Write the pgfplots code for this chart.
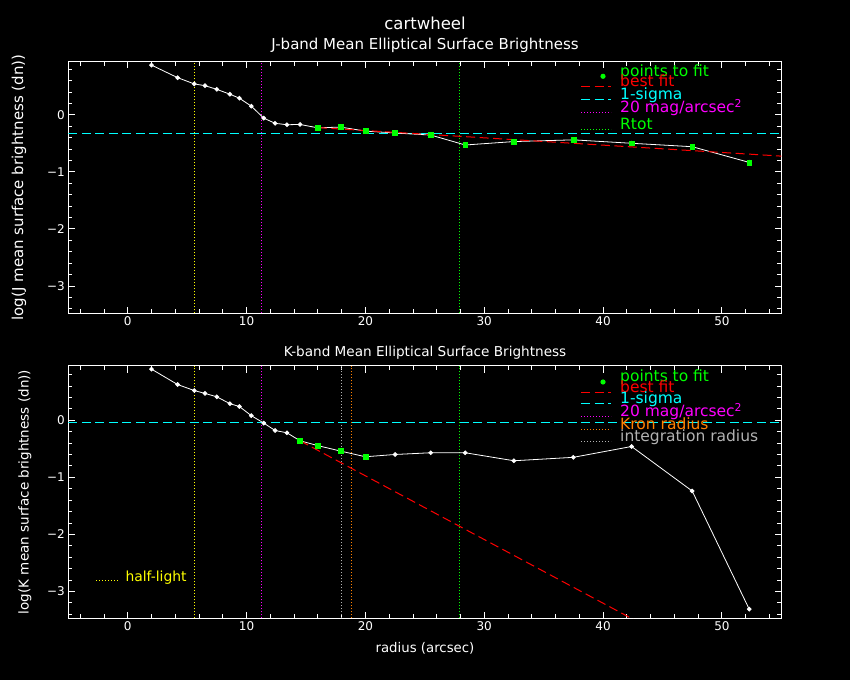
\documentclass[border=0pt]{standalone}
\usepackage{pgfplots}
\usepackage{pgfplotstable}
\pgfplotsset{compat=1.18}
\usepackage{fontspec}
\setmainfont{DejaVu Sans}
\definecolor{pgreen}{RGB}{0,255,0}
\definecolor{pcyan}{RGB}{0,255,255}
\definecolor{pmag}{RGB}{255,0,255}
\definecolor{pred}{RGB}{255,0,0}
\definecolor{pyel}{RGB}{255,255,0}
\definecolor{porange}{RGB}{255,128,0}
\definecolor{pgray}{RGB}{178,178,178}

\pgfplotstableread{
r      J       K
2.0    0.87    0.895
4.2    0.65    0.625
5.6    0.54    0.52
6.5    0.51    0.47
7.5    0.445   0.41
8.6    0.36    0.29
9.4    0.29    0.24
10.4   0.15    0.08
11.45  -0.06   -0.05
12.4   -0.15   -0.18
13.4   -0.175  -0.22
14.5   -0.17   -0.36
16.0   -0.23   -0.445
17.9   -0.216  -0.54
20.0   -0.286  -0.64
22.5   -0.32   -0.60
25.5   -0.356  -0.57
28.4   -0.53   -0.57
32.5   -0.47   -0.71
37.5   -0.44   -0.65
42.4   -0.50   -0.46
47.5   -0.56   -1.24
52.3   -0.835  -3.31
}\prof

\pgfplotstableread{
r      J
16.0   -0.23
17.9   -0.216
20.0   -0.286
22.5   -0.32
25.5   -0.356
28.4   -0.53
32.5   -0.47
37.5   -0.44
42.4   -0.50
47.5   -0.56
52.3   -0.835
}\fitJ

\pgfplotstableread{
r      K
14.5   -0.36
16.0   -0.445
17.9   -0.54
20.0   -0.64
}\fitK

\tikzset{
  dotl/.style={line width=1pt, dash pattern=on 1pt off 2pt},
  dashl/.style={line width=1pt, dash pattern=on 9pt off 4.5pt},
}
\pgfplotsset{
  pg/.style={
    scale only axis, width=713pt,
    xmin=-5, xmax=55,
    axis line style={white, line width=1pt},
    every tick/.style={white, line width=0.8pt},
    tick align=inside,
    major tick length=6.7pt, minor tick length=4pt,
    xtick={0,10,20,30,40,50},
    minor xtick={-4,-2,...,54},
    ytick={-3,-2,-1,0},
    yticklabels={−3,−2,−1,0},
    minor ytick={-3.4,-3.2,...,0.9},
    tick label style={white, font=\fontsize{12}{14}\selectfont},
    /pgf/number format/assume math mode=true,
    axis background/.style={fill=black},
  },
  datal/.style={white, line width=0.8pt, mark=*, mark size=1.9pt, mark options={fill=white, draw=white, solid}},
  fitm/.style={only marks, mark=square*, mark size=2.4pt, mark options={fill=pgreen, draw=pgreen}},
}

\begin{document}
\begin{tikzpicture}[x=1pt,y=1pt]
\fill[black] (0,0) rectangle (850,680);

% ---------- J band ----------
\begin{axis}[pg, at={(68.3pt,366.7pt)}, anchor=south west, height=251.6pt,
  ymin=-3.48, ymax=0.93]
\addplot[pyel, dotl] coordinates {(5.6,-3.48) (5.6,0.93)};
\addplot[pmag, dotl] coordinates {(11.25,-3.48) (11.25,0.93)};
\addplot[pgreen, dotl] coordinates {(27.95,-3.48) (27.95,0.93)};
\addplot[pcyan, dashl] coordinates {(-5,-0.333) (55,-0.333)};
\addplot[datal] table[x=r, y=J] {\prof};
\addplot[pred, dashl] coordinates {(16.0,-0.225) (55,-0.725)};
\addplot[fitm] table[x=r, y=J] {\fitJ};
\end{axis}

% ---------- K band ----------
\begin{axis}[pg, at={(68.3pt,61.7pt)}, anchor=south west, height=252.3pt,
  ymin=-3.47, ymax=0.95]
\addplot[pyel, dotl] coordinates {(5.6,-3.47) (5.6,0.95)};
\addplot[pmag, dotl] coordinates {(11.25,-3.47) (11.25,0.95)};
\addplot[pgray, dotl] coordinates {(17.95,-3.47) (17.95,0.95)};
\addplot[porange, dotl] coordinates {(18.8,-3.47) (18.8,0.95)};
\addplot[pgreen, dotl] coordinates {(27.95,-3.47) (27.95,0.95)};
\addplot[pcyan, dashl] coordinates {(-5,-0.035) (55,-0.035)};
\addplot[datal] table[x=r, y=K] {\prof};
\addplot[pred, dashl] coordinates {(14.5,-0.36) (43.0,-3.54)};
\addplot[fitm] table[x=r, y=K] {\fitK};
\end{axis}

% ---------- titles and labels ----------
\node[white, anchor=base, font=\fontsize{16.5}{18}\selectfont] at (425,650) {cartwheel};
\node[white, anchor=base, font=\fontsize{15}{17}\selectfont] at (425,630) {J-band Mean Elliptical Surface Brightness};
\node[white, anchor=base, font=\fontsize{13.6}{16}\selectfont] at (425,323) {K-band Mean Elliptical Surface Brightness};
\node[white, anchor=base, font=\fontsize{13.3}{16}\selectfont] at (425,28) {radius (arcsec)};
\node[white, rotate=90, font=\fontsize{15}{17}\selectfont] at (19,492.5) {log(J mean surface brightness (dn))};
\node[white, rotate=90, font=\fontsize{13.5}{16}\selectfont] at (25,188) {log(K mean surface brightness (dn))};

% ---------- legend J ----------
\begin{scope}[font=\fontsize{15.5}{17}\selectfont]
\fill[pgreen] (603,603.7) circle (2.6);
\node[pgreen, anchor=base west, inner sep=0] at (620,603.3) {points to fit};
\draw[pred, dashl] (581,593.3) -- (611,593.3);
\node[pred, anchor=base west, inner sep=0] at (620,593.3) {best fit};
\draw[pcyan, dashl] (581,580.7) -- (611,580.7);
\node[pcyan, anchor=base west, inner sep=0] at (620,580.7) {1-sigma};
\draw[pmag, dotl] (581,567.7) -- (611,567.7);
\node[pmag, anchor=base west, inner sep=0] at (620,567.7) {20 mag/arcsec\textsuperscript{2}};
\draw[pgreen, dotl] (581,550) -- (611,550);
\node[pgreen, anchor=base west, inner sep=0] at (620,550) {Rtot};

% ---------- legend K ----------
\fill[pgreen] (603,298) circle (2.6);
\node[pgreen, anchor=base west, inner sep=0] at (620,298) {points to fit};
\draw[pred, dashl] (581,287.7) -- (611,287.7);
\node[pred, anchor=base west, inner sep=0] at (620,287.7) {best fit};
\draw[pcyan, dashl] (581,276) -- (611,276);
\node[pcyan, anchor=base west, inner sep=0] at (620,276) {1-sigma};
\draw[pmag, dotl] (581,263.3) -- (611,263.3);
\node[pmag, anchor=base west, inner sep=0] at (620,263.3) {20 mag/arcsec\textsuperscript{2}};
\draw[porange, dotl] (581,250.7) -- (611,250.7);
\node[porange, anchor=base west, inner sep=0] at (620,250.7) {Kron radius};
\draw[pgray, dotl] (581,238) -- (611,238);
\node[pgray, anchor=base west, inner sep=0] at (620,238) {integration radius};
\end{scope}

% half-light label
\draw[pyel, dotl] (96,100) -- (118,100);
\node[pyel, anchor=base west, inner sep=0, font=\fontsize{13.9}{16}\selectfont] at (125.3,99) {half-light};
\end{tikzpicture}
\end{document}
